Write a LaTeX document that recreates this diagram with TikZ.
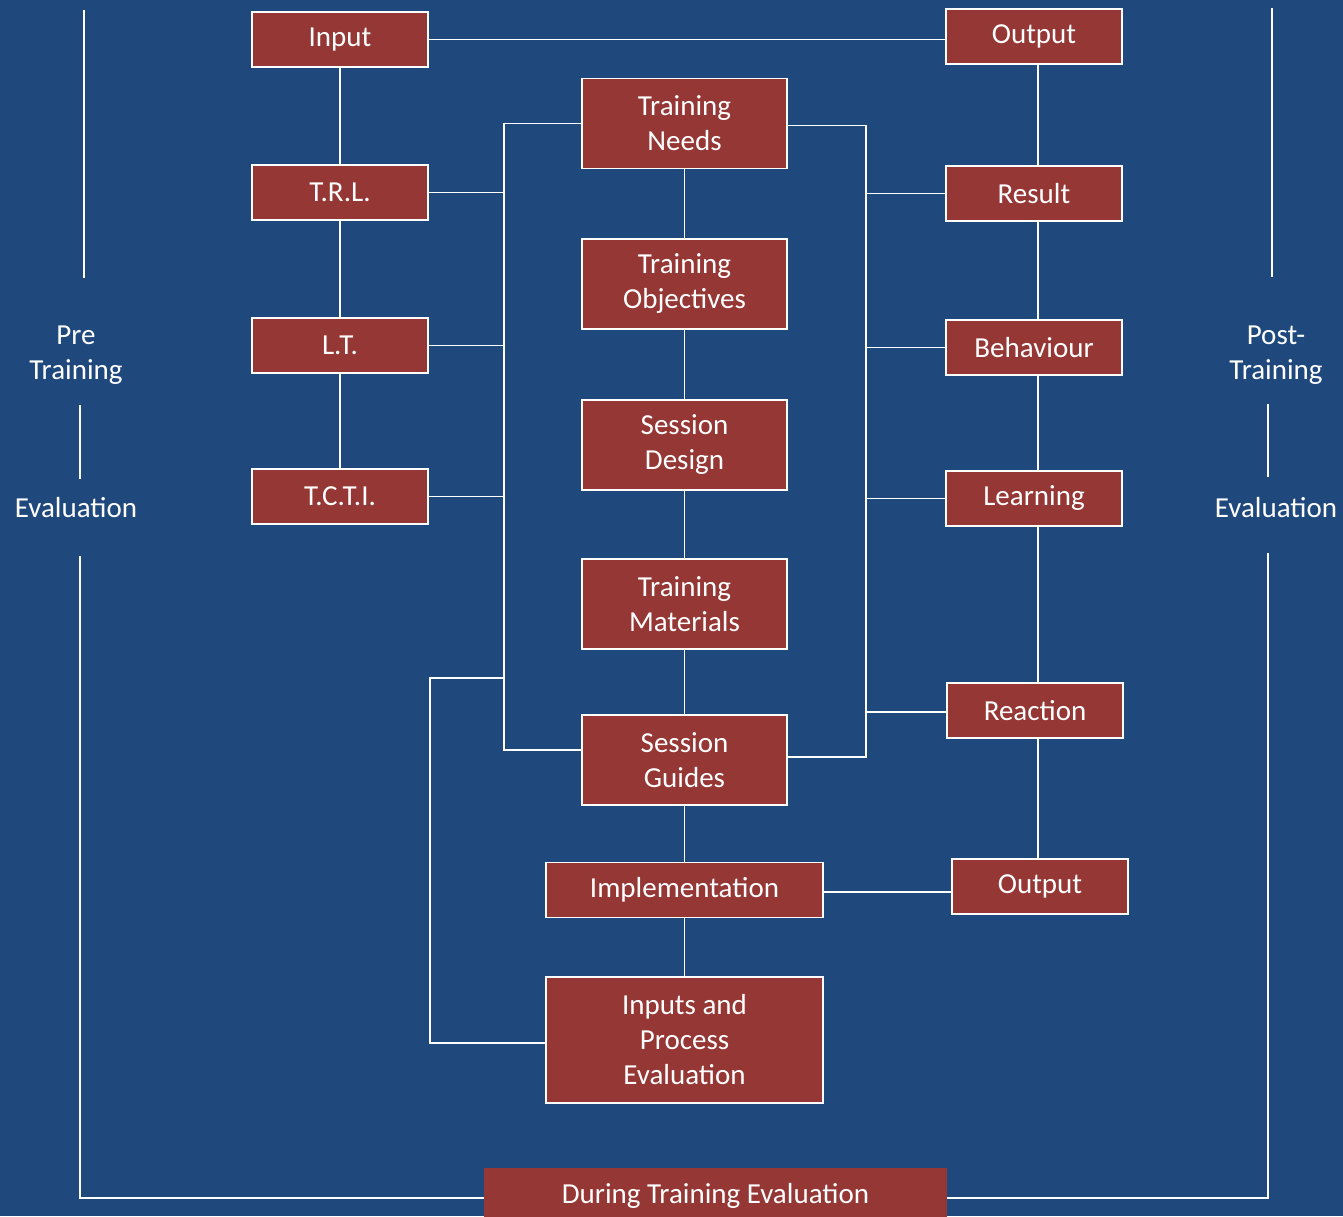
\documentclass[tikz,border=0pt]{standalone}
\usepackage{fontspec}
\setmainfont{Carlito}
\definecolor{bgblue}{HTML}{1F497D}
\definecolor{boxred}{HTML}{953735}
\begin{document}
\begin{tikzpicture}[x=1pt,y=-1pt,
  box/.style={draw=white, line width=1.6pt, fill=boxred, text=white,
    minimum width=176pt, minimum height=55pt, inner sep=0pt, align=center,
    font=\fontsize{29}{35}\selectfont},
  midbox/.style={box, minimum width=205pt, minimum height=90pt},
  widebox/.style={box, minimum width=277pt},
  lbl/.style={text=white, align=center, inner sep=0pt, font=\fontsize{29}{35}\selectfont},
  wire/.style={draw=white, line width=1.6pt}]
% page and background
\clip (0,0) rectangle (1343,1216);
\fill[bgblue] (0,0) rectangle (1343,1216);

% bus positions
\coordinate (lb) at (504,0);
\coordinate (rb) at (866,0);
\coordinate (lk) at (430,678);

% side labels
\node[lbl] (preT) at (76,355) {Pre\\Training};
\node[lbl] (preE) at (76,508) {Evaluation};
\node[lbl] (postT) at (1276,355) {Post-\\Training};
\node[lbl] (postE) at (1276,508) {Evaluation};

\coordinate (pl1a) at (84,10);   \coordinate (pl1b) at (84,278);
\coordinate (pl2a) at (80,405);  \coordinate (pl2b) at (80,479);
\coordinate (pl3a) at (80,556);
\coordinate (ql1a) at (1272,8);  \coordinate (ql1b) at (1272,277);
\coordinate (ql2a) at (1268,404); \coordinate (ql2b) at (1268,477);
\coordinate (ql3a) at (1268,553);
\coordinate (frameY) at (0,1198);

\draw[wire] (pl1a) -- (pl1b);
\draw[wire] (pl2a) -- (pl2b);
\draw[wire] (ql1a) -- (ql1b);
\draw[wire] (ql2a) -- (ql2b);
\draw[wire] (pl3a) -- (pl3a |- frameY) -- (ql3a |- frameY) -- (ql3a);

% left column
\node[box] (in)   at (340,39.5)  {Input};
\node[box] (trl)  at (340,192.5) {T.R.L.};
\node[box] (lt)   at (340,345.5) {L.T.};
\node[box] (tcti) at (340,496.5) {T.C.T.I.};

% right column
\node[box] (outT) at (1034,36.5)  {Output};
\node[box] (res)  at (1034,193.5) {Result};
\node[box] (beh)  at (1034,347.5) {Behaviour};
\node[box] (lrn)  at (1034,498.5) {Learning};
\node[box] (rea)  at (1035,710.5) {Reaction};
\node[box] (outB) at (1040,886.5) {Output};

% centre column
\node[midbox] (tn)  at (684.5,123.5) {Training\\Needs};
\node[midbox] (to)  at (684.5,284)   {Training\\Objectives};
\node[midbox] (sd)  at (684.5,445)   {Session\\Design};
\node[midbox] (tm)  at (684.5,604)   {Training\\Materials};
\node[midbox] (sg)  at (684.5,760)   {Session\\Guides};
\node[widebox] (imp) at (684.5,890)  {Implementation};
\node[widebox, minimum height=126pt] (ipe) at (684.5,1040) {Inputs and\\Process\\Evaluation};

% vertical chains
\draw[wire] (in) -- (trl) -- (lt) -- (tcti);
\draw[wire] ([xshift=4pt]outT.south) -- ([xshift=4pt]res.north);
\draw[wire] ([xshift=4pt]res.south) -- ([xshift=4pt]beh.north);
\draw[wire] ([xshift=4pt]beh.south) -- ([xshift=4pt]lrn.north);
\draw[wire] ([xshift=4pt]lrn.south) -- ([xshift=3pt]rea.north);
\draw[wire] ([xshift=3pt]rea.south) -- ([xshift=-2pt]outB.north);
\draw[wire] (tn) -- (to) -- (sd) -- (tm) -- (sg) -- (imp) -- (ipe);

% top and bottom links
\draw[wire] (in.east) -- (in.east -| outT.west);
\draw[wire] ([yshift=-2pt]imp.east) -- ([yshift=-2pt]imp.east -| outB.west);

% left bus
\draw[wire] (tn.west) -- (tn.west -| lb) -- ([yshift=10pt]sg.west -| lb) -- ([yshift=10pt]sg.west);
\draw[wire] (trl.east) -- (trl.east -| lb);
\draw[wire] (lt.east) -- (lt.east -| lb);
\draw[wire] (tcti.east) -- (tcti.east -| lb);
\draw[wire] (lb |- lk) -- (lk) |- ([yshift=-3pt]ipe.west);

% right bus
\draw[wire] ([yshift=-2pt]tn.east) -- ([yshift=-2pt]tn.east -| rb) -- ([yshift=3pt]sg.east -| rb) -- ([yshift=3pt]sg.east);
\draw[wire] (res.west) -- (res.west -| rb);
\draw[wire] (beh.west) -- (beh.west -| rb);
\draw[wire] (lrn.west) -- (lrn.west -| rb);
\draw[wire] ([yshift=-1.5pt]rea.west) -- ([yshift=-1.5pt]rea.west -| rb);

% bottom banner
\node[box, draw=none, minimum width=463pt, minimum height=56pt] (dte) at (715.5,1196) {During Training Evaluation};
\end{tikzpicture}
\end{document}
